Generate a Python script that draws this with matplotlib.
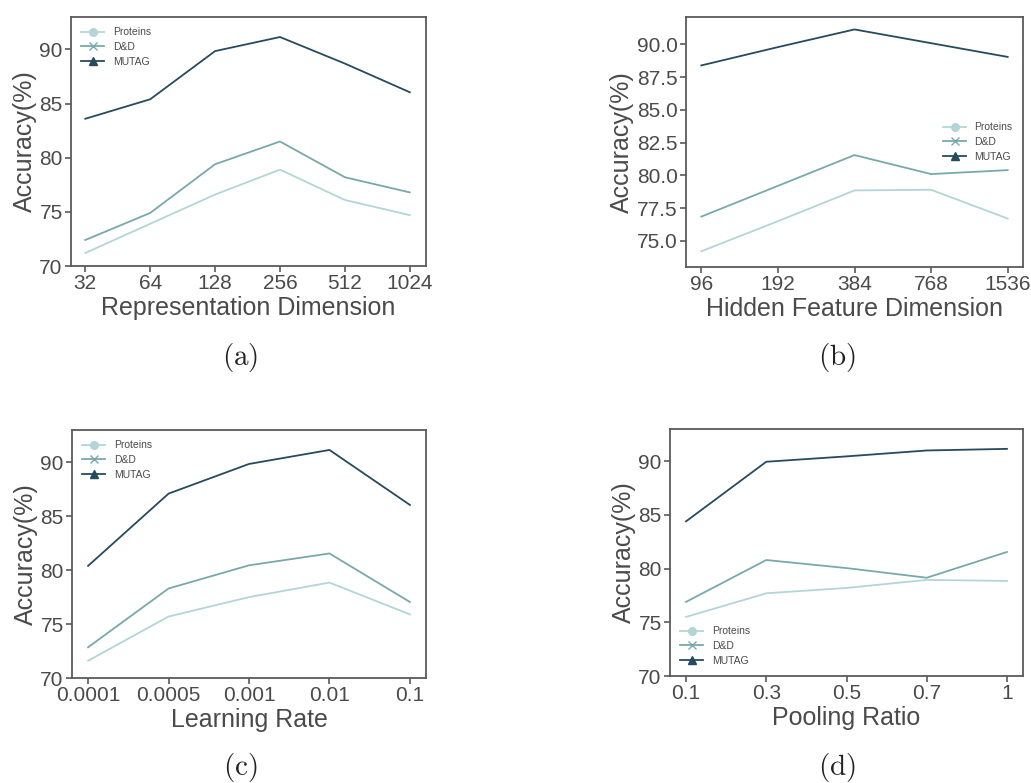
import numpy as np
import matplotlib
matplotlib.use('Agg')
import matplotlib.pyplot as plt
from matplotlib.lines import Line2D

plt.rcParams['font.family'] = ['Liberation Sans', 'DejaVu Sans']
plt.rcParams['mathtext.fontset'] = 'cm'

# data
series_names = ['Proteins', 'D&D', 'MUTAG']
colors = ['#b3d5d7', '#78a9aa', '#274a5f']
markers = ['o', 'x', '^']

dim_labels = ['32', '64', '128', '256', '512', '1024']
dim_proteins = [71.2, 73.9, 76.6, 78.9, 76.1, 74.7]
dim_dd = [72.4, 74.9, 79.4, 81.5, 78.2, 76.8]
dim_mutag = [83.6, 85.4, 89.85, 91.15, 88.7, 86.05]

hid_labels = ['96', '192', '384', '768', '1536']
hid_proteins = [74.2, 76.5, 78.85, 78.9, 76.7]
hid_dd = [76.85, 79.2, 81.55, 80.1, 80.4]
hid_mutag = [88.4, 89.8, 91.15, 90.1, 89.05]

lr_labels = ['0.0001', '0.0005', '0.001', '0.01', '0.1']
lr_proteins = [71.6, 75.7, 77.5, 78.85, 75.9]
lr_dd = [72.85, 78.3, 80.45, 81.55, 77.05]
lr_mutag = [80.4, 87.1, 89.85, 91.15, 86.05]

pool_labels = ['0.1', '0.3', '0.5', '0.7', '1']
pool_proteins = [75.5, 77.7, 78.2, 78.95, 78.85]
pool_dd = [76.9, 80.8, 80.05, 79.15, 81.55]
pool_mutag = [84.4, 89.95, 90.45, 91.0, 91.15]

W, H = 1031, 783
fig = plt.figure(figsize=(W / 100, H / 100), dpi=100)

def px_axes(l, t, r, b):
    return fig.add_axes([l / W, 1 - b / H, (r - l) / W, (b - t) / H])

text_col = '#4a4a4a'
spine_col = '#5a5a5a'

def draw(ax, labels, data, ylim, yticks, yfmt, xlabel, legend_loc, caption, cap_x, cap_y):
    x = np.arange(len(labels))
    for vals, c in zip(data, colors):
        ax.plot(x, vals, color=c, lw=1.3)
    ax.set_xlim(-0.22 if len(labels) == 6 else -0.2, len(labels) - 1 + (0.25 if len(labels) == 6 else 0.2))
    ax.set_ylim(*ylim)
    ax.set_xticks(x)
    ax.set_xticklabels(labels)
    ax.set_yticks(yticks)
    ax.set_yticklabels([yfmt.format(v) for v in yticks])
    ax.tick_params(labelsize=15, colors=text_col, length=4, width=1.2, color=spine_col, pad=2)
    for s in ax.spines.values():
        s.set_color(spine_col)
        s.set_linewidth(1.3)
    ax.set_xlabel(xlabel, fontsize=18, color=text_col, labelpad=2)
    ax.set_ylabel('Accuracy(%)', fontsize=18, color=text_col, labelpad=2)
    handles = [Line2D([0], [0], color=c, marker=m, lw=1.3, markersize=5.5)
               for c, m in zip(colors, markers)]
    ax.legend(handles, series_names, loc=legend_loc, frameon=False, fontsize=7.5,
              labelcolor=text_col, handlelength=2.2, borderaxespad=0.6, labelspacing=0.45)
    fig.text(cap_x / W, 1 - cap_y / H, caption, fontsize=21, ha='center', va='center', color='#222222')

ax_a = px_axes(71, 17, 426, 266)
draw(ax_a, dim_labels, [dim_proteins, dim_dd, dim_mutag], (70, 93), [70, 75, 80, 85, 90], '{:.0f}',
     'Representation Dimension', 'upper left', r'$\mathrm{(a)}$', 240, 358)

ax_b = px_axes(686, 17, 1023, 267)
draw(ax_b, hid_labels, [hid_proteins, hid_dd, hid_mutag], (73, 92.1),
     [75.0, 77.5, 80.0, 82.5, 85.0, 87.5, 90.0], '{:.1f}',
     'Hidden Feature Dimension', 'center right', r'$\mathrm{(b)}$', 837, 358)

ax_c = px_axes(72, 430, 426, 678)
draw(ax_c, lr_labels, [lr_proteins, lr_dd, lr_mutag], (70, 93), [70, 75, 80, 85, 90], '{:.0f}',
     'Learning Rate', 'upper left', r'$\mathrm{(c)}$', 240, 768)

ax_d = px_axes(670, 429, 1023, 676)
draw(ax_d, pool_labels, [pool_proteins, pool_dd, pool_mutag], (70, 93), [70, 75, 80, 85, 90], '{:.0f}',
     'Pooling Ratio', 'lower left', r'$\mathrm{(d)}$', 837, 768)

plt.savefig('out.png', dpi=100)
